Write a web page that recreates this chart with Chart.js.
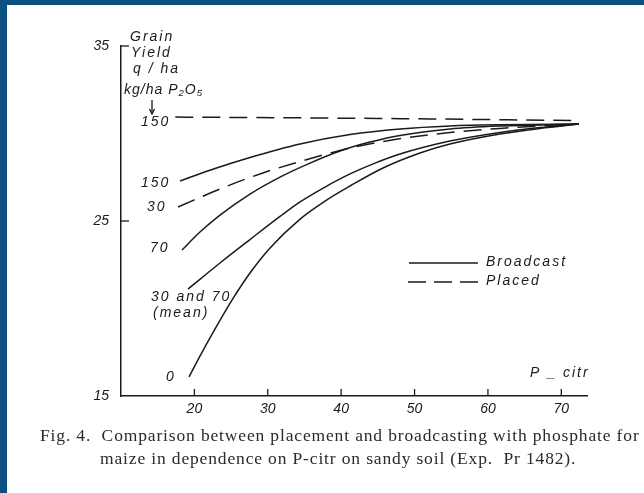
<!DOCTYPE html>
<html>
<head>
<meta charset="utf-8">
<script src="https://cdn.jsdelivr.net/npm/chart.js@4.4.1/dist/chart.umd.min.js"></script>
<style>
  html, body { margin:0; padding:0; width:644px; height:493px; overflow:hidden; background:#0b5080; }
  #paper { position:absolute; left:7px; top:5px; width:637px; height:488px; background:#ffffff; }
  #c { position:absolute; left:0; top:0; }
  .cap { position:absolute; font-family:'Liberation Serif','DejaVu Serif',serif; font-size:17.5px; letter-spacing:0.85px; color:#2a2a2a; white-space:nowrap; }
</style>
</head>
<body>
<div id="paper"></div>
<canvas id="c" width="644" height="493"></canvas>
<div class="cap" style="left:40px; top:425px;">Fig. 4.&nbsp; Comparison between placement and broadcasting with phosphate for</div>
<div class="cap" style="left:100px; top:448px;">maize in dependence on P-citr on sandy soil (Exp.&nbsp; Pr 1482).</div>
<script>
// ---- data (x = P-citr, y = grain yield q/ha) ----
const xTickValues = [20, 30, 40, 50, 60, 70];
const yTickValues = [15, 25, 35];

const placed150X = [17.4, 44.9, 72.4];
const placed150Y = [30.94, 30.86, 30.74];

const broadcast150X = [18.04, 22.81, 27.58, 34.40, 41.21, 48.02, 54.83, 61.64, 72.40];
const broadcast150Y = [27.29, 28.00, 28.63, 29.40, 29.94, 30.26, 30.43, 30.50, 30.54];

const placed30X = [17.77, 23.49, 28.94, 34.40, 39.84, 45.29, 50.74, 56.19, 61.64, 67.09, 72.40];
const placed30Y = [25.80, 26.83, 27.69, 28.40, 29.03, 29.51, 29.86, 30.11, 30.29, 30.43, 30.54];

const broadcast70X = [18.31, 20.76, 23.49, 27.58, 31.67, 35.76, 39.84, 43.93, 48.02, 54.83, 61.64, 67.09, 72.40];
const broadcast70Y = [23.34, 24.37, 25.34, 26.54, 27.51, 28.31, 29.00, 29.51, 29.89, 30.26, 30.43, 30.49, 30.54];

const mean3070X = [19.13, 23.49, 27.58, 31.67, 34.40, 37.80, 41.21, 44.61, 48.02, 54.83, 61.64, 67.09, 72.40];
const mean3070Y = [21.11, 22.60, 23.94, 25.26, 26.09, 26.94, 27.69, 28.31, 28.83, 29.57, 30.06, 30.34, 30.54];

const zeroX = [19.27, 20.78, 22.82, 25.14, 27.58, 30.31, 34.40, 37.80, 41.21, 45.70, 50.74, 54.83, 61.64, 67.09, 72.40];
const zeroY = [16.09, 17.29, 18.83, 20.49, 22.03, 23.46, 25.11, 26.14, 27.00, 28.03, 28.89, 29.40, 29.97, 30.29, 30.54];

const seriesNames = ['Placed 150', 'Broadcast 150', 'Placed 30', 'Broadcast 70', 'Broadcast 30 and 70 (mean)', 'Broadcast 0'];
const seriesX = [placed150X, broadcast150X, placed30X, broadcast70X, mean3070X, zeroX];
const seriesY = [placed150Y, broadcast150Y, placed30Y, broadcast70Y, mean3070Y, zeroY];
const seriesDashed = [true, false, true, false, false, false];

const INK = '#1a1a1a';
const LETTER = "italic 14px 'Liberation Sans', 'DejaVu Sans', sans-serif";

const datasets = seriesNames.map((name, i) => ({
  label: name,
  data: seriesX[i].map((x, k) => ({ x: x, y: seriesY[i][k] })),
  borderColor: INK,
  borderWidth: 1.5,
  borderDash: seriesDashed[i] ? [18, 9] : [],
  pointRadius: 0,
  fill: false,
  cubicInterpolationMode: 'monotone'
}));

const decor = {
  id: 'decor',
  afterDraw(chart) {
    const ctx = chart.ctx;
    const xs = chart.scales.x, ys = chart.scales.y;
    const ca = chart.chartArea;
    ctx.save();
    ctx.strokeStyle = INK;
    ctx.lineWidth = 1.3;
    // inward tick marks
    xTickValues.forEach(v => {
      const px = xs.getPixelForValue(v);
      ctx.beginPath(); ctx.moveTo(px, ca.bottom); ctx.lineTo(px, ca.bottom - 7); ctx.stroke();
    });
    [25, 35].forEach(v => {
      const py = ys.getPixelForValue(v);
      ctx.beginPath(); ctx.moveTo(ca.left, py); ctx.lineTo(ca.left + 8, py); ctx.stroke();
    });
    // lettering
    ctx.fillStyle = INK;
    ctx.font = LETTER;
    ctx.textBaseline = 'middle';
    ctx.textAlign = 'left';
    try { ctx.letterSpacing = '2px'; } catch (e) {}
    const t = (s, x, y) => ctx.fillText(s, x, y);
    t('Grain', 130, 37);
    t('Yield', 131, 53);
    t('q / ha', 133, 69);
    try { ctx.letterSpacing = '1px'; } catch (e) {}
    t('kg/ha P₂O₅', 124, 90);
    try { ctx.letterSpacing = '2px'; } catch (e) {}
    // arrow
    ctx.beginPath(); ctx.moveTo(152, 100); ctx.lineTo(152, 113); ctx.stroke();
    ctx.beginPath(); ctx.moveTo(149.5, 109); ctx.lineTo(152, 114); ctx.lineTo(154.5, 109); ctx.stroke();
    t('150', 141, 122);
    t('150', 141, 183);
    t('30', 147, 207);
    t('70', 150, 248);
    t('30 and 70', 151, 297);
    t('(mean)', 153, 313);
    t('0', 166, 377);
    t('P _ citr', 530, 373);
    // legend
    ctx.lineWidth = 1.3;
    ctx.setLineDash([]);
    ctx.beginPath(); ctx.moveTo(409, 263); ctx.lineTo(478, 263); ctx.stroke();
    ctx.setLineDash([18, 8]);
    ctx.beginPath(); ctx.moveTo(408, 282); ctx.lineTo(478, 282); ctx.stroke();
    ctx.setLineDash([]);
    t('Broadcast', 486, 262);
    t('Placed', 486, 281);
    ctx.restore();
  }
};

new Chart(document.getElementById('c'), {
  type: 'line',
  data: { datasets },
  plugins: [decor],
  options: {
    responsive: false,
    animation: false,
    devicePixelRatio: 1,
    layout: { padding: { left: 0, top: 46, right: 57, bottom: 0 } },
    plugins: { legend: { display: false }, tooltip: { enabled: false } },
    scales: {
      x: {
        type: 'linear', min: 10, max: 73.5,
        afterBuildTicks: s => { s.ticks = xTickValues.map(v => ({ value: v })); },
        afterFit: s => { s.height = 97; },
        grid: { display: false, drawTicks: false },
        border: { display: true, color: INK, width: 1.5 },
        ticks: { color: INK, padding: 5, font: { family: "'Liberation Sans', sans-serif", size: 14, style: 'italic' } }
      },
      y: {
        type: 'linear', min: 15, max: 35,
        afterBuildTicks: s => { s.ticks = yTickValues.map(v => ({ value: v })); },
        afterFit: s => { s.width = 121; },
        grid: { display: false, drawTicks: false },
        border: { display: true, color: INK, width: 1.5 },
        ticks: { color: INK, padding: 12, font: { family: "'Liberation Sans', sans-serif", size: 14, style: 'italic' } }
      }
    }
  }
});
</script>
</body>
</html>
